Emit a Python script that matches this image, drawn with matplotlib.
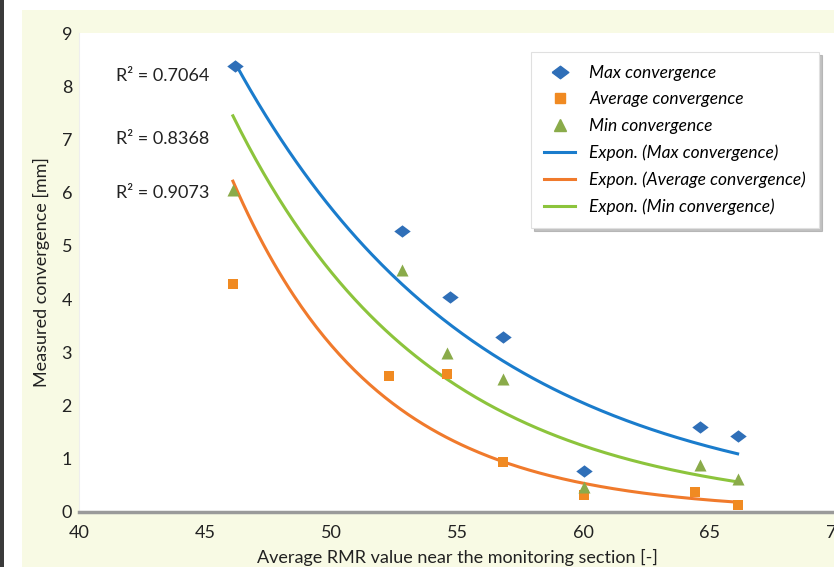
import numpy as np
import matplotlib
matplotlib.use("Agg")
import matplotlib.pyplot as plt
from matplotlib.patches import Rectangle
from matplotlib.lines import Line2D

rmr_max = [46.2, 52.8, 54.7, 56.8, 60.0, 64.6, 66.1]
conv_max = [8.38, 5.28, 4.04, 3.29, 0.77, 1.60, 1.42]
rmr_avg = [46.1, 52.3, 54.6, 56.8, 60.0, 64.4, 66.1]
conv_avg = [4.29, 2.56, 2.59, 0.94, 0.32, 0.38, 0.13]
rmr_min = [46.1, 52.8, 54.6, 56.8, 60.0, 64.6, 66.1]
conv_min = [6.05, 4.55, 2.99, 2.50, 0.47, 0.88, 0.62]
r2_labels = ["R\u00b2 = 0.7064", "R\u00b2 = 0.8368", "R\u00b2 = 0.9073"]
r2_y = [8.2, 7.0, 6.0]

c_blue, c_orange, c_green = "#1a7ccc", "#f07a2c", "#8cc43c"
m_blue, m_orange, m_green = "#2f6fb8", "#f08a22", "#8aab4a"
diamond = [(-1, 0), (0, 0.75), (1, 0), (0, -0.75), (-1, 0)]

W, H = 834, 567
fig = plt.figure(figsize=(W / 100, H / 100), dpi=100)
fig.patch.set_facecolor("white")
fig.add_artist(Rectangle((22 / W, 0), 1, (H - 10) / H, transform=fig.transFigure,
                         facecolor="#f8fae4", edgecolor="none", zorder=-10))
fig.add_artist(Rectangle((0, 0), 4 / W, 1, transform=fig.transFigure,
                         facecolor="#3a3a3a", edgecolor="none", zorder=-9))

x0, x1 = 79, 836
y0, y1 = 512, 33
ax = fig.add_axes([x0 / W, (H - y0) / H, (x1 - x0) / W, (y0 - y1) / H])
ax.set_facecolor("white")
ax.set_xlim(40, 70)
ax.set_ylim(0, 9)
ax.set_xticks(range(40, 71, 5))
ax.set_yticks(range(0, 10))
fam = ["Lato", "DejaVu Sans"]
for lab in ax.get_xticklabels() + ax.get_yticklabels():
    lab.set_family(fam)
    lab.set_fontsize(13)
    lab.set_color("#222222")
ax.tick_params(length=0)
ax.tick_params(axis="y", pad=5)
ax.tick_params(axis="x", pad=9)
for s in ["top", "right"]:
    ax.spines[s].set_visible(False)
ax.spines["left"].set_color("#eeeeee")
ax.spines["bottom"].set_color("#9a9a9a")
ax.spines["bottom"].set_linewidth(2.5)
ax.set_xlabel("Average RMR value near the monitoring section [-]", family=fam,
              fontsize=13, color="#222222", labelpad=6)
ax.set_ylabel("Measured convergence [mm]", family=fam, fontsize=13,
              color="#222222", labelpad=8)


def expfit(x, y):
    x = np.asarray(x)
    b, a = np.polyfit(x, np.log(y), 1)
    xs = np.linspace(min(x), max(x), 200)
    return xs, np.exp(a + b * xs)


for xs_, ys_, c in [(rmr_max, conv_max, c_blue), (rmr_avg, conv_avg, c_orange),
                    (rmr_min, conv_min, c_green)]:
    fx, fy = expfit(xs_, ys_)
    ax.plot(fx, fy, color=c, lw=2.2, zorder=3)

ax.scatter(rmr_max, conv_max, marker=diamond, s=140, color=m_blue, zorder=4, linewidths=0)
ax.scatter(rmr_avg, conv_avg, marker="s", s=60, color=m_orange, zorder=4, linewidths=0)
ax.scatter(rmr_min, conv_min, marker="^", s=75, color=m_green, zorder=4, linewidths=0)

for t, yv in zip(r2_labels, r2_y):
    ax.text(43.3, yv, t, family=fam, fontsize=13, color="#222222",
            ha="center", va="center")

handles = [
    Line2D([], [], marker=diamond, ls="none", color=m_blue, markersize=12),
    Line2D([], [], marker="s", ls="none", color=m_orange, markersize=7.5),
    Line2D([], [], marker="^", ls="none", color=m_green, markersize=9),
    Line2D([], [], color=c_blue, lw=2.2),
    Line2D([], [], color=c_orange, lw=2.2),
    Line2D([], [], color=c_green, lw=2.2),
]
labels = ["Max convergence", "Average convergence", "Min convergence",
          "Expon. (Max convergence)", "Expon. (Average convergence)",
          "Expon. (Min convergence)"]
leg = ax.legend(handles, labels, loc="upper left",
                bbox_to_anchor=((531 - x0) / (x1 - x0), (y0 - 52) / (y0 - y1)),
                borderaxespad=0,
                prop={"family": fam, "style": "italic", "size": 12.5},
                frameon=True, fancybox=False, shadow={"color": "#9a9a9a", "alpha": 0.6},
                borderpad=0.75, labelspacing=0.6, handlelength=1.8,
                handletextpad=0.8)
leg.get_frame().set_edgecolor("#e0e0e0")
leg.get_frame().set_linewidth(0.8)

fig.savefig("out.png", dpi=100)
